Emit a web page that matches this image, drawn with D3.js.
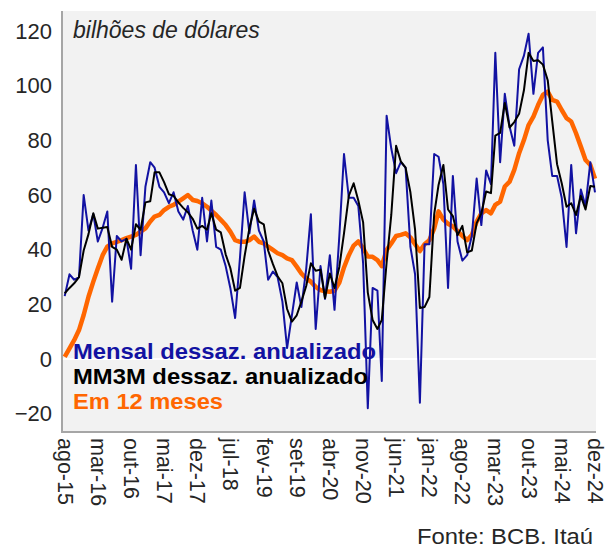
<!DOCTYPE html>
<html><head><meta charset="utf-8">
<script src="https://cdn.jsdelivr.net/npm/d3@7"></script>
<style>html,body{margin:0;padding:0;background:#fff;}svg{display:block;font-family:"Liberation Sans",Arial,sans-serif;}</style>
</head><body>
<svg id="chart" width="606" height="550"></svg>
<script>
// ---- data ----
const startMonth = new Date(2015, 7, 1);   // ago-15
const endMonth = new Date(2024, 11, 1);    // dez-24
const tickLabels = ["ago-15","mar-16","out-16","mai-17","dez-17","jul-18","fev-19","set-19","abr-20","nov-20","jun-21","jan-22","ago-22","mar-23","out-23","mai-24","dez-24"];
const yTicks = [-20, 0, 20, 40, 60, 80, 100, 120];
const seriesNames = ["Mensal dessaz. anualizado", "MM3M dessaz. anualizado", "Em 12 meses"];

const mensal = [23,31,29,30,60,47,53,43,48,54,21,45,43,44,33,71,38,63,72,70,
  63,61,57,61,54,51,56,47,40,59,43,58,41,40,34,26,15,37,61,46,
  58,47,43,29,32,30,21,4,16,28,19,33,53,11,34,22,38,18,45,75,
  59,59,56,35,-18,26,25,-8,89,77,68,72,70,41,31,-16,42,42,75,74,
  64,26,67,43,36,38,45,66,49,69,64,112,72,97,85,78,106,111,119,97,
  112,114,80,67,67,59,41,71,46,62,56,72,61];

const mm3m = [24,26,27.7,30,39.7,45.7,53.3,47.7,48,48.3,41,40,36.3,44,40,49.3,47.3,57.3,57.7,68.3,
  68.3,64.7,60.3,59.7,57.3,55.3,53.7,51.3,47.7,48.7,47.3,53.3,47.3,46.3,38.3,33.3,25,26,37.7,48,
  55,50.3,49.3,39.7,34.7,30.3,27.7,18.3,13.7,16,21,26.7,35,32.3,32.7,22.3,31.3,26,33.7,46,
  59.7,64.3,58,50,24.3,14.3,11,14.3,35.3,52.7,78,72.3,70,61,47.3,18.7,19,22.7,53,63.7,
  71,54.7,52.3,45.3,48.7,39,39.7,49.7,53.3,61.3,60.7,81.7,82.7,93.7,84.7,86.7,89.7,98.3,112,109,
  109.3,107.7,102,87,71.3,64.3,55.7,57,52.7,59.7,54.7,63.3,63];

const em12 = [0.8,3.9,6.9,10.6,16.1,22.8,28.3,33.1,38,41.1,42.3,42.9,43.5,44.2,44.8,45.4,46.6,47.8,50.3,52.1,
  52.7,54.5,55.7,56.4,57.6,58.8,60,58.2,57.8,57,55.7,54.3,52.7,50.9,49,46.6,43.5,42.9,42.9,43.5,
  44.8,42.9,42.3,41.1,39.9,38.7,38,36.8,36.2,33.8,31.3,29.5,28.3,26.4,25.2,24.8,24.6,25,28,33.5,
  38,41.5,43,40.5,37.5,37.4,36.2,34,39.9,42.3,45,45.4,46,44.5,42,39.5,42,43.5,47.8,54,
  51,49.5,48.5,46.8,45,43.5,45.4,50.3,53.3,54.5,53.3,56.4,57.6,63.1,64.9,69.2,75.3,80.1,85.6,88.7,
  92.9,96.6,97.8,94.8,94.2,91.1,88.1,86.9,82.6,77.7,72.8,71,66];

const colors = {mensal: "#1212a2", mm3m: "#000000", em12: "#ff6600"};

// ---- chart ----
const months = d3.timeMonth.range(startMonth, d3.timeMonth.offset(endMonth, 1));
const svg = d3.select("#chart");
const plot = {left: 62, right: 596, top: 11, bottom: 432};

const x = d3.scaleTime().domain([startMonth, endMonth]).range([64.7, 595]);
const y = d3.scaleLinear().domain([-20, 120]).range([413.7, 31]);

svg.append("rect").attr("x", plot.left).attr("y", plot.top)
  .attr("width", plot.right - plot.left).attr("height", plot.bottom - plot.top)
  .attr("fill", "#f2f2f2");

// zero line
svg.append("line").attr("x1", plot.left).attr("x2", plot.right)
  .attr("y1", y(0)).attr("y2", y(0)).attr("stroke", "#ffffff").attr("stroke-width", 2);

// y axis labels
const yAxis = d3.axisLeft(y).tickValues(yTicks).tickSize(0).tickPadding(10).tickFormat(d => d < 0 ? "\u2212" + Math.abs(d) : d);
const gy = svg.append("g").attr("transform", `translate(${plot.left},0)`).call(yAxis);
gy.select(".domain").remove();
gy.selectAll("text").attr("font-size", 22).attr("fill", "#262626").attr("font-family", "Liberation Sans, Arial, sans-serif");

// x axis labels
const tickDates = months.filter((d, i) => i % 7 === 0);
const xAxis = d3.axisBottom(x).tickValues(tickDates).tickSize(0).tickFormat((d, i) => tickLabels[i]);
const gx = svg.append("g").attr("transform", `translate(0,${plot.bottom})`).call(xAxis);
gx.select(".domain").remove();
gx.selectAll("text").attr("transform", "rotate(90)").attr("x", 6).attr("y", 0).attr("dy", "0.35em")
  .style("text-anchor", "start").attr("font-size", 21.5).attr("fill", "#262626").attr("font-family", "Liberation Sans, Arial, sans-serif");

// axis lines
svg.append("line").attr("x1", plot.left).attr("x2", plot.left).attr("y1", plot.top).attr("y2", plot.bottom + 1)
  .attr("stroke", "#a6a6a6").attr("stroke-width", 2);
svg.append("line").attr("x1", plot.left - 1).attr("x2", plot.right).attr("y1", plot.bottom).attr("y2", plot.bottom)
  .attr("stroke", "#a6a6a6").attr("stroke-width", 2);

const line = d3.line().x((d, i) => x(months[i])).y(d => y(d));
svg.append("path").datum(em12).attr("d", line).attr("fill", "none").attr("stroke", colors.em12).attr("stroke-width", 4.5).attr("stroke-linejoin", "round");
svg.append("path").datum(mensal).attr("d", line).attr("fill", "none").attr("stroke", colors.mensal).attr("stroke-width", 2).attr("stroke-linejoin", "round");
svg.append("path").datum(mm3m).attr("d", line).attr("fill", "none").attr("stroke", colors.mm3m).attr("stroke-width", 2).attr("stroke-linejoin", "round");

// title
svg.append("text").attr("x", 73).attr("y", 37.5).attr("font-size", 23).attr("font-style", "italic")
  .attr("fill", "#262626").text("bilhões de dólares");

// legend
const legendColors = [colors.mensal, colors.mm3m, colors.em12];
const legendW = [303, 295, 150];
seriesNames.forEach((name, i) => {
  svg.append("text").attr("x", 73).attr("y", 358.5 + i * 25)
    .attr("font-size", 22).attr("font-weight", "bold").attr("fill", legendColors[i])
    .attr("textLength", legendW[i]).attr("lengthAdjust", "spacingAndGlyphs").text(name);
});

// source
svg.append("text").attr("x", 593).attr("y", 544).attr("text-anchor", "end").attr("font-size", 22)
  .attr("fill", "#262626").attr("textLength", 176).attr("lengthAdjust", "spacingAndGlyphs").text("Fonte: BCB. Itaú");
</script>
</body></html>
